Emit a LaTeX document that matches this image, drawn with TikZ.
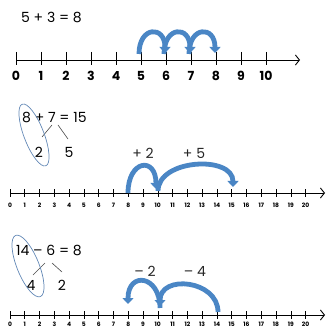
\documentclass[tikz,border=0pt]{standalone}
\usepackage{fontspec}
\setmainfont{Lato}
\newfontfamily\numfont{Poppins}
\newfontfamily\eqfont{Poppins}
\usetikzlibrary{arrows.meta}

\definecolor{jumpblue}{RGB}{74,134,197}
\definecolor{ringblue}{RGB}{98,136,182}

\tikzset{
  numline/.style={line width=0.9pt, -{Straight Barb[length=4pt,width=10pt]}},
  tickmark/.style={line width=0.9pt},
  jump/.style={jumpblue, line width=4.8pt, -{Triangle[length=6pt,width=11pt]}},
  ring/.style={ringblue, line width=0.7pt},
  branch/.style={black!70, line width=0.6pt},
  eqn/.style={anchor=west, inner sep=0pt, font=\eqfont\fontsize{14}{14}\selectfont},
  part/.style={inner sep=0pt, font=\eqfont\fontsize{14}{14}\selectfont},
  steplabel/.style={inner sep=0pt, black!85, font=\eqfont\fontsize{14}{14}\selectfont},
  bignum/.style={inner sep=0pt, font=\numfont\bfseries\fontsize{12.5}{12.5}\selectfont},
  smallnum/.style={inner sep=0pt, font=\numfont\bfseries\fontsize{6}{6}\selectfont}
}

\begin{document}
\begin{tikzpicture}[x=1pt,y=-1pt]
\useasboundingbox (0,0) rectangle (326,328);

% 5 + 3 = 8
\node[eqn] (eqa) at (21,17) {5 + 3 = 8};
\draw[numline] (16,60) -- (300,60);
\foreach \i in {0,...,10} {
  \draw[tickmark] (16+25*\i,52) -- (16+25*\i,65);
  \node[bignum] (ta\i) at (16+25*\i,76) {\i};
}
\coordinate (a5) at (139,54);
\coordinate (a6) at (165,53);
\coordinate (a6s) at (164,54);
\coordinate (a7) at (190,53);
\coordinate (a7s) at (189,54);
\coordinate (a8) at (215,53);
\draw[jump] (a5) .. controls +(0,-28) and +(0,-28) .. (a6);
\draw[jump] (a6s) .. controls +(0,-28) and +(0,-28) .. (a7);
\draw[jump] (a7s) .. controls +(0,-28) and +(0,-28) .. (a8);

% 8 + 7 = 15
\node[eqn] (eqb) at (22,118) {8 + 7 = 15};
\node[part] (bl) at (39,152) {2};
\node[part] (br) at (69,152) {5};
\coordinate (bs1) at (52,125);
\coordinate (bs2) at (58,125);
\coordinate (bl1) at (42,137);
\coordinate (br1) at (68,139);
\draw[branch] (bs1) -- (bl1);
\draw[branch] (bs2) -- (br1);
\draw[ring, rotate around={21:(34,135)}] (34,135) ellipse [x radius=10, y radius=33];
\node[steplabel] (pb1) at (143,153) {+ 2};
\node[steplabel] (pb2) at (194,153) {+ 5};
\draw[numline] (10,193) -- (325,193);
\foreach \i in {0,...,20} {
  \draw[tickmark, line width=0.6pt] (10+14.78*\i,189) -- (10+14.78*\i,197);
  \node[smallnum] (tb\i) at (10+14.78*\i,205) {\i};
}
\coordinate (b8) at (128,193);
\coordinate (b10) at (156,189);
\coordinate (b10s) at (158,191);
\coordinate (b15) at (233,187);
\draw[jump] (b8) .. controls +(0,-33) and +(0,-33) .. (b10);
\draw[jump] (b10s) .. controls +(0,-32) and +(0,-32) .. (b15);

% 14 - 6 = 8
\node[eqn] (eqc) at (16,250) {14 – 6 = 8};
\node[part] (cl) at (31,285) {4};
\node[part] (cr) at (62,285) {2};
\coordinate (cs1) at (45,263);
\coordinate (cs2) at (52,263);
\coordinate (cl1) at (33,275);
\coordinate (cr1) at (62,272);
\draw[branch] (cs1) -- (cl1);
\draw[branch] (cs2) -- (cr1);
\draw[ring, rotate around={22:(28,266)}] (28,266) ellipse [x radius=11, y radius=33];
\node[steplabel] (mc1) at (145,271) {– 2};
\node[steplabel] (mc2) at (195,271) {– 4};
\draw[numline] (10,315) -- (325,315);
\foreach \i in {0,...,20} {
  \draw[tickmark, line width=0.6pt] (10+14.78*\i,311) -- (10+14.78*\i,319);
  \node[smallnum] (tc\i) at (10+14.78*\i,324) {\i};
}
\coordinate (c14) at (218,312);
\coordinate (c10) at (160,306);
\coordinate (c10s) at (160,308);
\coordinate (c8) at (128,304);
\draw[jump] (c14) .. controls +(0,-32) and +(0,-32) .. (c10);
\draw[jump] (c10s) .. controls +(0,-33) and +(0,-33) .. (c8);
\end{tikzpicture}
\end{document}
